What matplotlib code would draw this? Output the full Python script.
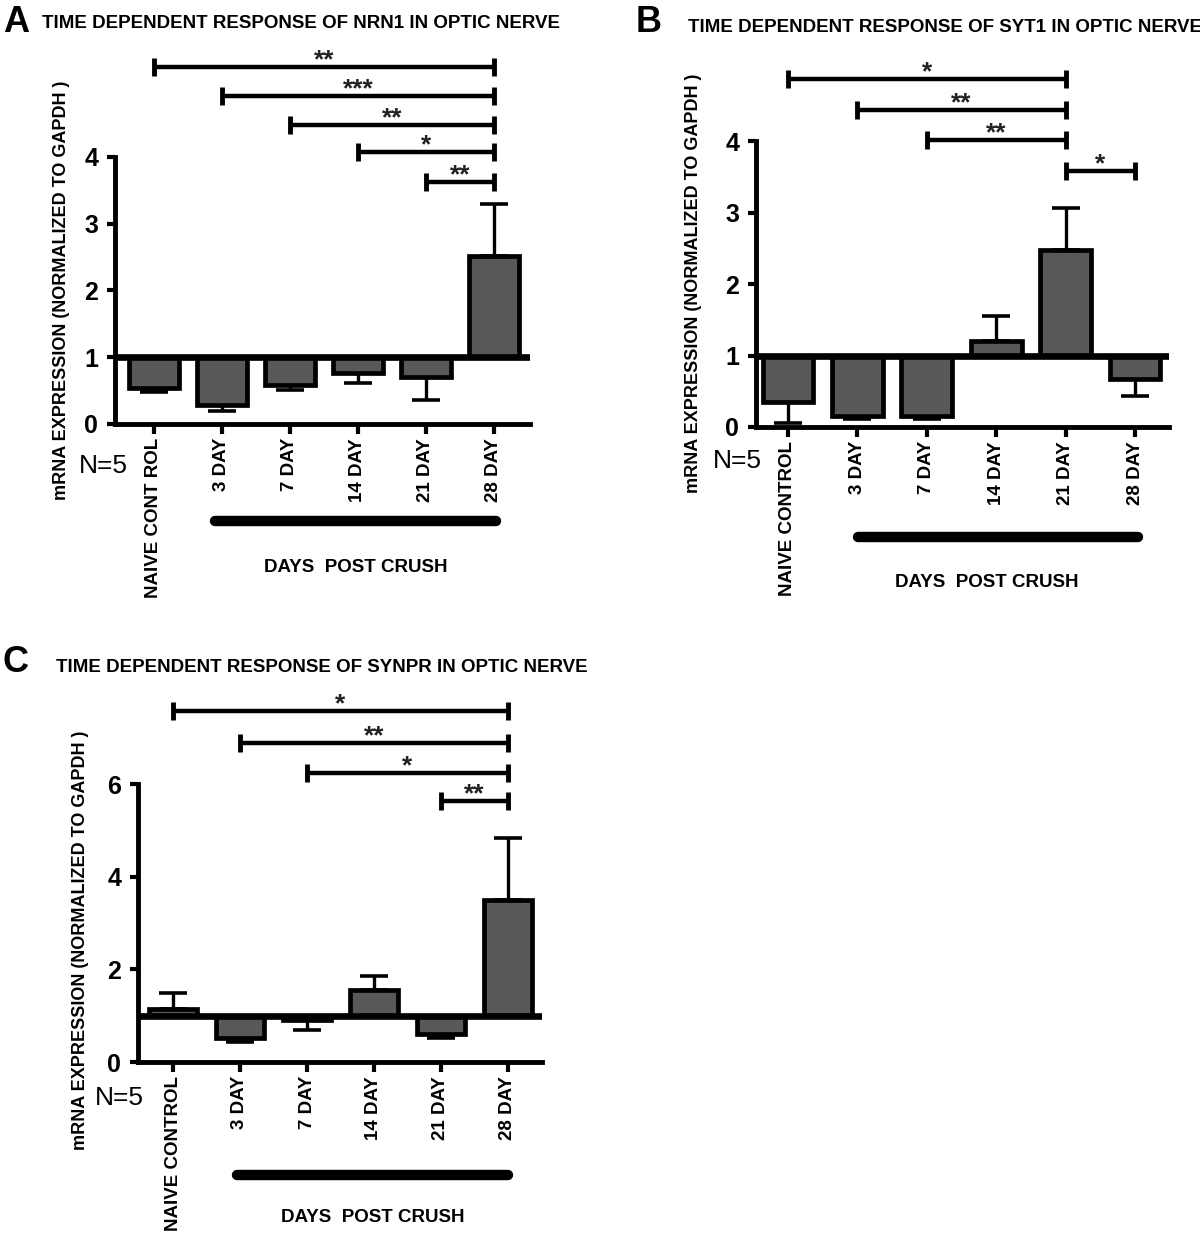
import matplotlib
matplotlib.use("Agg")
import matplotlib.pyplot as plt
import numpy as np

plt.rcParams['font.family'] = ['Liberation Sans', 'DejaVu Sans']

# ---------------- data ----------------
categories = ["NAIVE CONTROL", "3 DAY", "7 DAY", "14 DAY", "21 DAY", "28 DAY"]
categories_a = ["NAIVE CONT ROL", "3 DAY", "7 DAY", "14 DAY", "21 DAY", "28 DAY"]

nrn1_mean = [0.54, 0.28, 0.59, 0.77, 0.71, 2.52]
nrn1_sem = [0.06, 0.09, 0.08, 0.15, 0.35, 0.78]
nrn1_sig_start = [0, 1, 2, 3, 4]
nrn1_sig_end = [5, 5, 5, 5, 5]
nrn1_sig_y = [5.35, 4.91, 4.48, 4.07, 3.62]
nrn1_sig_label = ["**", "***", "**", "*", "**"]

syt1_mean = [0.35, 0.16, 0.16, 1.21, 2.48, 0.67]
syt1_sem = [0.30, 0.05, 0.05, 0.35, 0.59, 0.24]
syt1_sig_start = [0, 1, 2, 4]
syt1_sig_end = [4, 4, 4, 5]
syt1_sig_y = [4.87, 4.44, 4.02, 3.58]
syt1_sig_label = ["*", "**", "**", "*"]

synpr_mean = [1.15, 0.52, 0.90, 1.56, 0.61, 3.50]
synpr_sem = [0.35, 0.08, 0.21, 0.29, 0.09, 1.34]
synpr_sig_start = [0, 1, 2, 4]
synpr_sig_end = [5, 5, 5, 5]
synpr_sig_y = [7.58, 6.89, 6.24, 5.63]
synpr_sig_label = ["*", "**", "*", "**"]

W, H = 1200, 1250
fig = plt.figure(figsize=(W / 100, H / 100), dpi=100)
BAR_COLOR = "#585858"
YLABEL = "mRNA EXPRESSION (NORMALIZED TO GAPDH )"


def fx(x):
    return x / W


def fy(y):
    return 1 - y / H


def make_panel(letter, letter_xy, title, title_xy, left, right, tick0, tickstep,
               y0, unit, ymax, yticks, labels, mean, sem,
               s_start, s_end, s_y, s_lab,
               line_px, dpc_xy, n5_xy, ylabel_xy):
    xlo = (left - tick0) / tickstep
    xhi = (right - tick0) / tickstep
    ax = fig.add_axes([fx(left), fy(y0), (right - left) / W, ymax * unit / H])
    ax.set_xlim(xlo, xhi)
    ax.set_ylim(0, ymax)
    x = np.arange(len(mean))
    mean = np.array(mean)
    sem = np.array(sem)
    below = mean < 1
    lower = np.where(below, sem, 0)
    upper = np.where(below, 0, sem)
    ax.errorbar(x, mean, yerr=[lower, upper], fmt='none', ecolor='black',
                elinewidth=2.4, capsize=10, capthick=2.6, zorder=2)
    ax.bar(x, mean - 1, bottom=1, width=0.73, color=BAR_COLOR,
           edgecolor='black', linewidth=3.4, zorder=3)
    ax.axhline(1, color='black', lw=4.8, zorder=4)
    for sp in ['top', 'right']:
        ax.spines[sp].set_visible(False)
    ax.spines['left'].set_bounds(0, yticks[-1])
    ax.spines['left'].set_linewidth(3.5)
    ax.spines['bottom'].set_linewidth(3.5)
    ax.set_yticks(yticks)
    ax.set_yticklabels([str(t) for t in yticks], fontsize=18, fontweight='bold')
    ax.tick_params(axis='y', length=6, width=3, pad=6)
    ax.set_xticks(x)
    ax.set_xticklabels(labels, rotation=90, fontsize=13.5, fontweight='bold')
    ax.tick_params(axis='x', length=7, width=3, pad=3)
    ax.patch.set_alpha(0)

    # significance brackets
    for a, b, yy, lab in zip(s_start, s_end, s_y, s_lab):
        ax.plot([a, b], [yy, yy], color='black', lw=3.2, clip_on=False,
                solid_capstyle='butt')
        ax.plot([a, b], [yy, yy], linestyle='none', marker='|', markersize=13,
                mew=3.5, color='black', clip_on=False)
        ax.annotate(lab, xy=((a + b) / 2, yy), xytext=(0, 0),
                    textcoords='offset points', ha='center', va='baseline',
                    fontsize=19, fontweight='bold', color='#222222',
                    annotation_clip=False)

    # days-post-crush line
    xa = (line_px[0] - tick0) / tickstep
    xb = (line_px[1] - tick0) / tickstep
    yl = (y0 - line_px[2]) / unit
    ax.plot([xa, xb], [yl, yl], color='black', lw=7.5, clip_on=False,
            solid_capstyle='round')

    fig.text(fx(dpc_xy[0]), fy(dpc_xy[1]), "DAYS  POST CRUSH", ha='center',
             va='center', fontsize=13.5, fontweight='bold')
    fig.text(fx(n5_xy[0]), fy(n5_xy[1]), "N=5", ha='center', va='center',
             fontsize=19)
    fig.text(fx(ylabel_xy[0]), fy(ylabel_xy[1]), YLABEL, rotation=90,
             ha='center', va='center', fontsize=13, fontweight='bold')
    fig.text(fx(letter_xy[0]), fy(letter_xy[1]), letter, ha='left', va='center',
             fontsize=26, fontweight='bold')
    fig.text(fx(title_xy[0]), fy(title_xy[1]), title, ha='left', va='center',
             fontsize=13.5, fontweight='bold')
    return ax


axA = make_panel("A", (3, 22), "TIME DEPENDENT RESPONSE OF NRN1 IN OPTIC NERVE", (42, 23),
                 115, 530, 154, 68, 424, 66.75, 5.6, [0, 1, 2, 3, 4], categories_a,
                 nrn1_mean, nrn1_sem, nrn1_sig_start, nrn1_sig_end, nrn1_sig_y,
                 nrn1_sig_label, (215, 496, 521), (356, 567), (103, 466), (62, 290))

axB = make_panel("B", (636, 22), "TIME DEPENDENT RESPONSE OF SYT1 IN OPTIC NERVE", (688, 27),
                 756, 1169, 788, 69.4, 427, 71.4, 5.3, [0, 1, 2, 3, 4], categories,
                 syt1_mean, syt1_sem, syt1_sig_start, syt1_sig_end, syt1_sig_y,
                 syt1_sig_label, (858, 1138, 537), (987, 583), (737, 461), (694, 283))

axC = make_panel("C", (3, 662), "TIME DEPENDENT RESPONSE OF SYNPR IN OPTIC NERVE", (56, 667),
                 138, 542, 173, 67, 1062, 46.3, 8.2, [0, 2, 4, 6], categories,
                 synpr_mean, synpr_sem, synpr_sig_start, synpr_sig_end, synpr_sig_y,
                 synpr_sig_label, (237, 508, 1175), (373, 1217), (119, 1098), (81, 940))

fig.savefig("out.png", dpi=100)
